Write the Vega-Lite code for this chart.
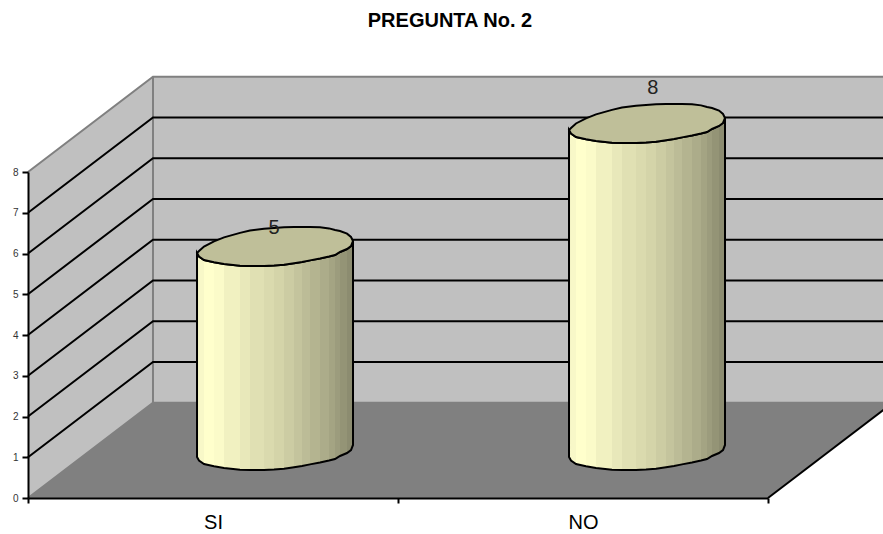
{"$schema":"https://vega.github.io/schema/vega-lite/v6.json","width":740,"height":326,"autosize":"none","padding":{"left":28,"top":172,"right":115,"bottom":36},"background":"white","view":{"stroke":null},
"title":{"text":"PREGUNTA No. 2","font":"Liberation Sans","fontSize":20,"fontWeight":"bold","color":"black","anchor":"middle","dx":52,"offset":42},
"datasets":{
"walls":[{"part":"left","x":0,"y":0,"y2":8},{"part":"left","x":0.3378,"y":2.34,"y2":10.34},{"part":"back","x":0.3378,"y":2.34,"y2":10.34},{"part":"back","x":2.3378,"y":2.34,"y2":10.34},{"part":"floor","x":0,"y":0,"y2":0},{"part":"floor","x":0.3378,"y":0,"y2":2.34},{"part":"floor","x":2,"y":0,"y2":2.34},{"part":"floor","x":2.3378,"y":2.34,"y2":2.34}],
"grid":[{"v":1,"x":0,"y":1},{"v":1,"x":0.3378,"y":3.34},{"v":1,"x":2.3378,"y":3.34},{"v":2,"x":0,"y":2},{"v":2,"x":0.3378,"y":4.34},{"v":2,"x":2.3378,"y":4.34},{"v":3,"x":0,"y":3},{"v":3,"x":0.3378,"y":5.34},{"v":3,"x":2.3378,"y":5.34},{"v":4,"x":0,"y":4},{"v":4,"x":0.3378,"y":6.34},{"v":4,"x":2.3378,"y":6.34},{"v":5,"x":0,"y":5},{"v":5,"x":0.3378,"y":7.34},{"v":5,"x":2.3378,"y":7.34},{"v":6,"x":0,"y":6},{"v":6,"x":0.3378,"y":8.34},{"v":6,"x":2.3378,"y":8.34},{"v":7,"x":0,"y":7},{"v":7,"x":0.3378,"y":9.34},{"v":7,"x":2.3378,"y":9.34},{"v":100,"x":2,"y":0},{"v":100,"x":2.3378,"y":2.34}],
"edges":[{"e":"top","x":0,"y":8},{"e":"top","x":0.3378,"y":10.34},{"e":"top","x":2.3378,"y":10.34},{"e":"corner","x":0.3378,"y":2.34},{"e":"corner","x":0.33781,"y":10.34},{"e":"base","x":0,"y":0},{"e":"base","x":0.3378,"y":2.34},{"e":"base","x":2.3378,"y":2.34}],
"rim":[
{"bar":"SI","x":0.4568,"base":1.006,"lo":6.012,"up":6.012},{"bar":"SI","x":0.4622,"base":0.92,"lo":5.926,"up":6.061},{"bar":"SI","x":0.4757,"base":0.834,"lo":5.84,"up":6.172},{"bar":"SI","x":0.5027,"base":0.778,"lo":5.784,"up":6.297},{"bar":"SI","x":0.5298,"base":0.736,"lo":5.742,"up":6.395},{"bar":"SI","x":0.573,"base":0.692,"lo":5.698,"up":6.506},{"bar":"SI","x":0.6,"base":0.687,"lo":5.693,"up":6.562},{"bar":"SI","x":0.6379,"base":0.687,"lo":5.693,"up":6.606},{"bar":"SI","x":0.6649,"base":0.699,"lo":5.705,"up":6.623},{"bar":"SI","x":0.6919,"base":0.717,"lo":5.723,"up":6.643},{"bar":"SI","x":0.719,"base":0.756,"lo":5.762,"up":6.65},{"bar":"SI","x":0.7406,"base":0.785,"lo":5.791,"up":6.65},{"bar":"SI","x":0.7622,"base":0.825,"lo":5.831,"up":6.65},{"bar":"SI","x":0.7892,"base":0.871,"lo":5.877,"up":6.643},{"bar":"SI","x":0.8136,"base":0.92,"lo":5.926,"up":6.616},{"bar":"SI","x":0.8298,"base":0.957,"lo":5.963,"up":6.577},{"bar":"SI","x":0.8433,"base":1.031,"lo":6.037,"up":6.552},{"bar":"SI","x":0.8622,"base":1.104,"lo":6.11,"up":6.488},{"bar":"SI","x":0.873,"base":1.178,"lo":6.184,"up":6.405},{"bar":"SI","x":0.8784,"base":1.301,"lo":6.307,"up":6.307},
{"bar":"NO","x":1.4622,"base":1.006,"lo":9.031,"up":9.031},{"bar":"NO","x":1.4676,"base":0.92,"lo":8.945,"up":9.08},{"bar":"NO","x":1.4811,"base":0.834,"lo":8.859,"up":9.191},{"bar":"NO","x":1.5081,"base":0.778,"lo":8.803,"up":9.316},{"bar":"NO","x":1.5352,"base":0.736,"lo":8.761,"up":9.414},{"bar":"NO","x":1.5784,"base":0.692,"lo":8.717,"up":9.525},{"bar":"NO","x":1.6054,"base":0.687,"lo":8.712,"up":9.581},{"bar":"NO","x":1.6433,"base":0.687,"lo":8.712,"up":9.625},{"bar":"NO","x":1.6703,"base":0.699,"lo":8.724,"up":9.642},{"bar":"NO","x":1.6973,"base":0.717,"lo":8.742,"up":9.662},{"bar":"NO","x":1.7244,"base":0.756,"lo":8.781,"up":9.669},{"bar":"NO","x":1.746,"base":0.785,"lo":8.81,"up":9.669},{"bar":"NO","x":1.7676,"base":0.825,"lo":8.85,"up":9.669},{"bar":"NO","x":1.7946,"base":0.871,"lo":8.896,"up":9.662},{"bar":"NO","x":1.819,"base":0.92,"lo":8.945,"up":9.635},{"bar":"NO","x":1.8352,"base":0.957,"lo":8.982,"up":9.596},{"bar":"NO","x":1.8487,"base":1.031,"lo":9.056,"up":9.571},{"bar":"NO","x":1.8676,"base":1.104,"lo":9.129,"up":9.507},{"bar":"NO","x":1.8784,"base":1.178,"lo":9.203,"up":9.424},{"bar":"NO","x":1.8838,"base":1.301,"lo":9.326,"up":9.326}],
"labels":[{"cat":"SI","value":5,"x":0.665,"y":6.626},{"cat":"NO","value":8,"x":1.689,"y":10.06}]},
"encoding":{
"x":{"field":"x","type":"quantitative","title":null,"scale":{"domain":[0,2],"nice":false,"zero":false},"axis":{"values":[0,0.5,1,1.5,2],"zindex":1,"grid":false,"domainColor":"black","domainWidth":2,"tickColor":"black","tickWidth":2,"tickSize":5,"tickOpacity":{"expr":"datum.value%1==0?1:0"},"labelExpr":"datum.value==0.5?'SI':datum.value==1.5?'NO':''","labelFont":"Liberation Sans","labelFontSize":20,"labelColor":"black","labelPadding":9,"labelFlush":false,"labelOverlap":false}},
"y":{"field":"y","type":"quantitative","title":null,"scale":{"domain":[0,8],"nice":false,"zero":false},"axis":{"values":[0,1,2,3,4,5,6,7,8],"zindex":1,"grid":false,"format":"d","domainColor":"black","domainWidth":2,"tickColor":"black","tickWidth":2,"tickSize":6,"labelFont":"Liberation Sans","labelFontSize":10,"labelColor":"#333333","labelPadding":4,"labelOverlap":false}}},
"layer":[
{"data":{"name":"walls"},"transform":[{"filter":"datum.part!='floor'"}],"mark":{"type":"area","orient":"vertical","fill":"#C0C0C0","clip":false},"encoding":{"y2":{"field":"y2"},"detail":{"field":"part"}}},
{"data":{"name":"walls"},"transform":[{"filter":"datum.part=='floor'"}],"mark":{"type":"area","orient":"vertical","fill":"#808080","clip":false},"encoding":{"y2":{"field":"y2"}}},
{"data":{"name":"edges"},"mark":{"type":"line","stroke":"#808080","strokeWidth":2,"clip":false},"encoding":{"detail":{"field":"e"}}},
{"data":{"name":"grid"},"mark":{"type":"line","stroke":"black","strokeWidth":2,"clip":false},"encoding":{"detail":{"field":"v"}}},
{"data":{"name":"rim"},"mark":{"type":"area","orient":"vertical","stroke":"black","strokeWidth":2,"clip":false,"fill":{"gradient":"linear","x1":0,"y1":0,"x2":1,"y2":0,"stops":[{"offset":0,"color":"#F8F8C8"},{"offset":0.045,"color":"#F8F8C8"},{"offset":0.045,"color":"#FFFFCC"},{"offset":0.109,"color":"#FFFFCC"},{"offset":0.109,"color":"#FBFBC9"},{"offset":0.173,"color":"#FBFBC9"},{"offset":0.173,"color":"#F1F1C1"},{"offset":0.276,"color":"#F1F1C1"},{"offset":0.276,"color":"#E8E8BA"},{"offset":0.34,"color":"#E8E8BA"},{"offset":0.34,"color":"#E0E0B3"},{"offset":0.429,"color":"#E0E0B3"},{"offset":0.429,"color":"#DADAAE"},{"offset":0.494,"color":"#DADAAE"},{"offset":0.494,"color":"#D4D4A9"},{"offset":0.558,"color":"#D4D4A9"},{"offset":0.558,"color":"#CCCCA3"},{"offset":0.622,"color":"#CCCCA3"},{"offset":0.622,"color":"#C4C49D"},{"offset":0.673,"color":"#C4C49D"},{"offset":0.673,"color":"#BCBC97"},{"offset":0.724,"color":"#BCBC97"},{"offset":0.724,"color":"#B4B490"},{"offset":0.788,"color":"#B4B490"},{"offset":0.788,"color":"#ACAC8A"},{"offset":0.846,"color":"#ACAC8A"},{"offset":0.846,"color":"#A4A483"},{"offset":0.885,"color":"#A4A483"},{"offset":0.885,"color":"#9C9C7D"},{"offset":0.917,"color":"#9C9C7D"},{"offset":0.917,"color":"#949476"},{"offset":0.962,"color":"#949476"},{"offset":0.962,"color":"#8C8C70"},{"offset":1,"color":"#8C8C70"}]}},"encoding":{"y":{"field":"lo","type":"quantitative"},"y2":{"field":"base"},"detail":{"field":"bar"}}},
{"data":{"name":"rim"},"mark":{"type":"area","orient":"vertical","fill":"#BFBF99","stroke":"black","strokeWidth":2,"clip":false},"encoding":{"y":{"field":"up","type":"quantitative"},"y2":{"field":"lo"},"detail":{"field":"bar"}}},
{"data":{"name":"labels"},"mark":{"type":"text","font":"Liberation Sans","fontSize":20,"color":"#222222","align":"center","baseline":"middle","clip":false},"encoding":{"text":{"field":"value","type":"quantitative"}}}
]}
